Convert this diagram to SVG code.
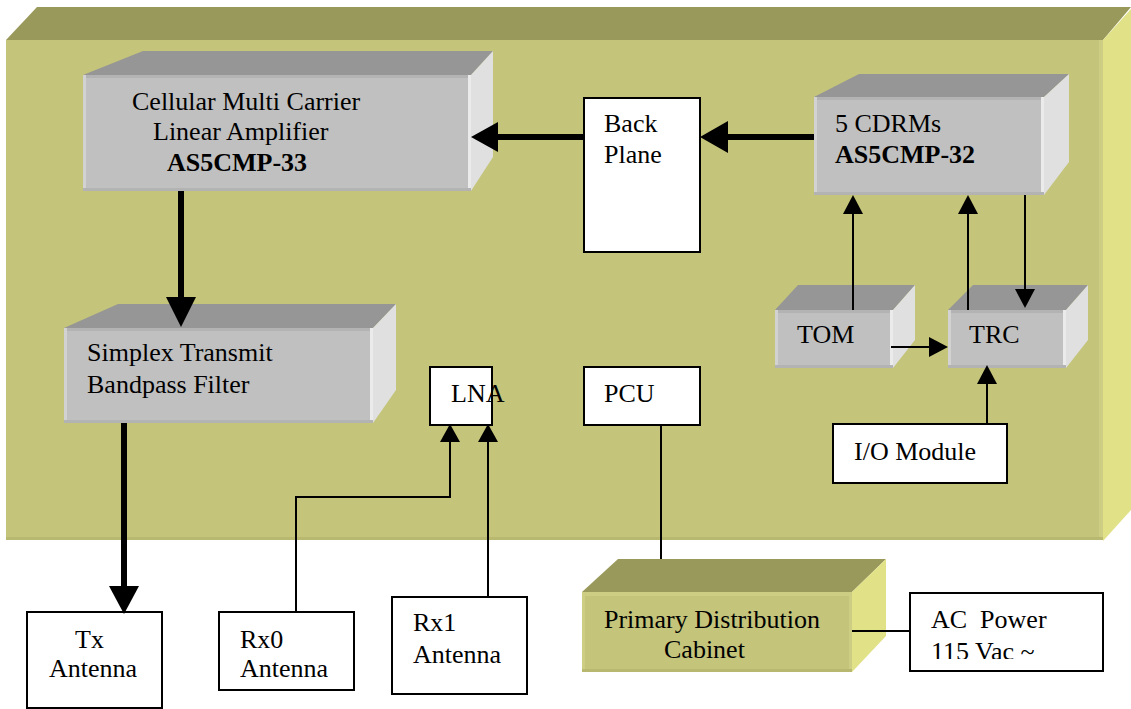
<svg xmlns="http://www.w3.org/2000/svg" width="1131" height="709" viewBox="0 0 1131 709">
<style>
text{font-family:"Liberation Serif","Times New Roman",serif;font-size:26px;fill:#000}
.b{font-weight:bold}
.ofr{fill:#C4C47A}.otp{fill:#99995B}.osd{fill:#E1E188}
.gfr{fill:#C0C0C0}.gtp{fill:#969696}.gsd{fill:#E0E0E0}
.gb1{fill:#B3B3B3}.gb2{fill:#D2D2D2}.gb3{fill:#EBEBEB}
.ob1{fill:#CDCD84}.ob2{fill:#B8B870}
.wb{fill:#fff;stroke:#000;stroke-width:2}
.thick{stroke:#000;stroke-width:6;fill:none}
.thin{stroke:#000;stroke-width:2;fill:none}
.ah{fill:#000}
</style>
<defs>
<clipPath id="acclip"><rect x="910" y="593" width="193" height="66"/></clipPath>
</defs>
<rect width="1131" height="709" fill="#fff"/>

<g id="cabinet">
<polygon class="otp" points="6,40 37,7 1131,7 1103,40"/>
<polygon class="osd" points="1103,40 1131,9 1131,510 1103,541"/>
<rect class="ofr" x="6" y="40" width="1097" height="500"/>
<rect class="ob1" x="1099" y="40" width="4" height="500"/>
<rect class="ob2" x="6" y="537" width="1097" height="3"/>
</g>

<g id="cmcla">
<polygon class="gtp" points="83,75 143,51 493,51 471,75"/>
<polygon class="gsd" points="471,75 493,51 493,157 471,191"/>
<rect class="gfr" x="83" y="75" width="388" height="116"/>
<rect class="gb1" x="83" y="75" width="388" height="3"/>
<rect class="gb2" x="83" y="75" width="3" height="116"/>
<rect class="gb3" x="468" y="75" width="3" height="116"/>
<rect class="gb1" x="83" y="188" width="388" height="3"/>
<text x="132" y="110">Cellular Multi Carrier</text>
<text x="153" y="140">Linear Amplifier</text>
<text class="b" x="167" y="171">AS5CMP-33</text>
</g>

<g id="backplane">
<rect class="wb" x="584" y="98" width="116" height="154"/>
<text x="604" y="132">Back</text>
<text x="604" y="163">Plane</text>
</g>

<g id="cdrms">
<polygon class="gtp" points="814,97 859,74 1069,74 1044,97"/>
<polygon class="gsd" points="1044,97 1069,74 1069,162 1044,195"/>
<rect class="gfr" x="814" y="97" width="230" height="98"/>
<rect class="gb1" x="814" y="97" width="230" height="3"/>
<rect class="gb2" x="814" y="97" width="3" height="98"/>
<rect class="gb3" x="1041" y="97" width="3" height="98"/>
<rect class="gb1" x="814" y="192" width="230" height="3"/>
<text x="835" y="132">5 CDRMs</text>
<text class="b" x="835" y="163">AS5CMP-32</text>
</g>

<g id="tom">
<polygon class="gtp" points="775,310 798,285 915,285 893,310"/>
<polygon class="gsd" points="893,310 915,285 915,340 893,368"/>
<rect class="gfr" x="775" y="310" width="118" height="58"/>
<rect class="gb1" x="775" y="310" width="118" height="3"/>
<rect class="gb2" x="775" y="310" width="3" height="58"/>
<rect class="gb3" x="890" y="310" width="3" height="58"/>
<rect class="gb1" x="775" y="365" width="118" height="3"/>
<text x="797" y="343">TOM</text>
</g>

<g id="trc">
<polygon class="gtp" points="948,310 973,285 1088,285 1066,310"/>
<polygon class="gsd" points="1066,310 1088,285 1088,340 1066,368"/>
<rect class="gfr" x="948" y="310" width="118" height="58"/>
<rect class="gb1" x="948" y="310" width="118" height="3"/>
<rect class="gb2" x="948" y="310" width="3" height="58"/>
<rect class="gb3" x="1063" y="310" width="3" height="58"/>
<rect class="gb1" x="948" y="365" width="118" height="3"/>
<text x="969" y="343">TRC</text>
</g>

<g id="filter">
<polygon class="gtp" points="64,328 118,304 396,304 373,328"/>
<polygon class="gsd" points="373,328 396,304 396,390 373,423"/>
<rect class="gfr" x="64" y="328" width="309" height="95"/>
<rect class="gb1" x="64" y="328" width="309" height="3"/>
<rect class="gb2" x="64" y="328" width="3" height="95"/>
<rect class="gb3" x="370" y="328" width="3" height="95"/>
<rect class="gb1" x="64" y="420" width="309" height="3"/>
<text x="87" y="361">Simplex Transmit</text>
<text x="87" y="393">Bandpass Filter</text>
</g>

<g id="lna">
<rect class="wb" x="430" y="367" width="62" height="58"/>
<text x="451" y="402">LNA</text>
</g>

<g id="pcu">
<rect class="wb" x="584" y="367" width="116" height="58"/>
<text x="604" y="402">PCU</text>
</g>

<g id="iomodule">
<rect class="wb" x="833" y="424" width="174" height="59"/>
<text x="854" y="460">I/O Module</text>
</g>

<g id="tx">
<rect class="wb" x="27" y="612" width="135" height="96"/>
<text x="75" y="648">Tx</text>
<text x="49" y="677">Antenna</text>
</g>

<g id="rx0">
<rect class="wb" x="219" y="612" width="135" height="78"/>
<text x="240" y="648">Rx0</text>
<text x="240" y="677">Antenna</text>
</g>

<g id="rx1">
<rect class="wb" x="392" y="597" width="135" height="97"/>
<text x="413" y="631">Rx1</text>
<text x="413" y="663">Antenna</text>
</g>

<g id="pdc">
<polygon class="otp" points="582,592 618,559 886,559 852,592"/>
<polygon class="osd" points="852,592 886,559 886,636 852,672"/>
<rect class="ofr" x="582" y="592" width="270" height="80"/>
<rect class="ob1" x="582" y="592" width="270" height="4"/>
<rect class="ob1" x="582" y="592" width="3" height="80"/>
<rect class="ob1" x="849" y="592" width="3" height="80"/>
<rect class="ob2" x="582" y="669" width="270" height="3"/>
<text x="604" y="628">Primary Distribution</text>
<text x="664" y="658">Cabinet</text>
</g>

<g id="acpower">
<rect class="wb" x="910" y="593" width="193" height="78"/>
<text x="931" y="628" xml:space="preserve">AC  Power</text>
<text x="931" y="660" clip-path="url(#acclip)">115 Vac ~</text>
</g>

<g id="connectors">
<line class="thick" x1="584" y1="137" x2="495" y2="137"/>
<polygon class="ah" points="471,137 498,122 498,152"/>
<line class="thick" x1="814" y1="137" x2="725" y2="137"/>
<polygon class="ah" points="700,137 728,121 728,153"/>
<line class="thick" x1="181" y1="191" x2="181" y2="300"/>
<polygon class="ah" points="181,327 166,297 196,297"/>
<line class="thick" x1="124" y1="423" x2="124" y2="590"/>
<polygon class="ah" points="124,614 109,586 139,586"/>
<line class="thin" x1="853" y1="310" x2="853" y2="212"/>
<polygon class="ah" points="853,195 843,214 863,214"/>
<line class="thin" x1="968" y1="310" x2="968" y2="212"/>
<polygon class="ah" points="968,195 958,214 978,214"/>
<line class="thin" x1="1025" y1="195" x2="1025" y2="292"/>
<polygon class="ah" points="1025,308 1015,289 1035,289"/>
<line class="thin" x1="891" y1="347" x2="931" y2="347"/>
<polygon class="ah" points="948,347 929,337 929,357"/>
<line class="thin" x1="987" y1="424" x2="987" y2="381"/>
<polygon class="ah" points="987,365 977,384 997,384"/>
<polyline class="thin" points="296,612 296,497 450,497 450,440"/>
<polygon class="ah" points="450,424 440,442 460,442"/>
<line class="thin" x1="488" y1="597" x2="488" y2="440"/>
<polygon class="ah" points="488,424 478,442 498,442"/>
<line class="thin" x1="661" y1="425" x2="661" y2="559"/>
<line class="thin" x1="852" y1="631" x2="910" y2="631"/>
</g>
</svg>
